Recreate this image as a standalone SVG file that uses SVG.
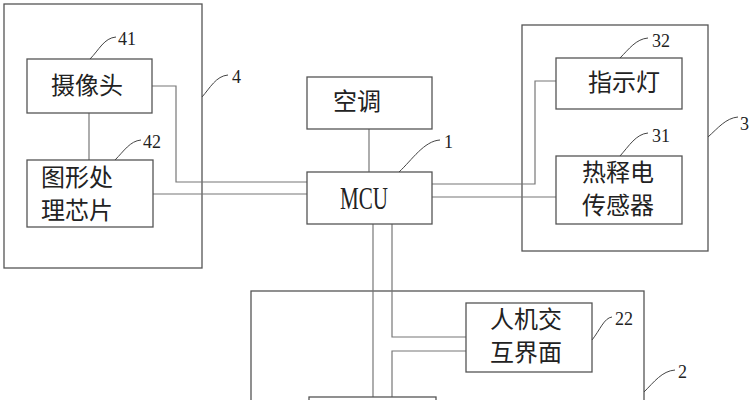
<svg xmlns="http://www.w3.org/2000/svg" width="756" height="400" viewBox="0 0 756 400">
<style>
.b{fill:#fff;stroke:#555;stroke-width:1.3}
.g{fill:none;stroke:#555;stroke-width:1.3}
.c{fill:none;stroke:#777;stroke-width:1.2}
.l{fill:none;stroke:#444;stroke-width:1}
.t{font-family:"Noto Sans CJK SC","Noto Sans",sans-serif;font-size:24px;fill:#222}
.n{font-family:"Liberation Serif",serif;font-size:18px;fill:#222}
</style>
<rect width="756" height="400" fill="#fff"/>
<g id="group4">
<rect class="g" x="4" y="4" width="198" height="264"/>
<path class="l" d="M202,97 C210,88 216,76 228,75"/>
<text class="n" x="232" y="83">4</text>
</g>
<g id="group3">
<rect class="g" x="522" y="25" width="186" height="226"/>
<path class="l" d="M708,137 C718,128 726,118 738,117"/>
<text class="n" x="740" y="130">3</text>
</g>
<g id="group2">
<rect class="g" x="251" y="291" width="393" height="130"/>
<path class="l" d="M644,392 C654,382 662,371 675,370"/>
<text class="n" x="678" y="378">2</text>
</g>
<g id="connectors">
<line class="c" x1="89" y1="113" x2="89" y2="160"/>
<polyline class="c" points="152,86 176,86 176,182 307,182"/>
<line class="c" x1="153" y1="194" x2="307" y2="194"/>
<line class="c" x1="369" y1="129" x2="369" y2="172"/>
<polyline class="c" points="432,184 535,184 535,81 556,81"/>
<line class="c" x1="432" y1="197" x2="556" y2="197"/>
<line class="c" x1="373" y1="224" x2="373" y2="397"/>
<polyline class="c" points="392,224 392,337 466,337"/>
<polyline class="c" points="466,351 392,351 392,397"/>
</g>
<g id="camera">
<rect class="b" x="27" y="59" width="125" height="54"/>
<text class="t" x="51" y="94">摄像头</text>
<path class="l" d="M90,59 C99,50 104,38 116,37"/>
<text class="n" x="118" y="45">41</text>
</g>
<g id="imgchip">
<rect class="b" x="27" y="160" width="126" height="67"/>
<text class="t" x="41" y="186">图形处</text>
<text class="t" x="41" y="219">理芯片</text>
<path class="l" d="M115,160 C124,151 130,141 141,140"/>
<text class="n" x="143" y="148">42</text>
</g>
<g id="aircon">
<rect class="b" x="307" y="77" width="125" height="52"/>
<text class="t" x="333" y="110">空调</text>
</g>
<g id="mcu">
<rect class="b" x="307" y="172" width="125" height="52"/>
<text x="340" y="209" font-family="Liberation Serif,serif" font-size="31" fill="#222" textLength="48" lengthAdjust="spacingAndGlyphs">MCU</text>
<path class="l" d="M399,172 C412,160 424,141 440,140"/>
<text class="n" x="444" y="148">1</text>
</g>
<g id="indicator">
<rect class="b" x="556" y="58" width="126" height="51"/>
<text class="t" x="588" y="91">指示灯</text>
<path class="l" d="M620,58 C629,49 636,39 648,38"/>
<text class="n" x="652" y="47">32</text>
</g>
<g id="sensor">
<rect class="b" x="556" y="156" width="126" height="68"/>
<text class="t" x="582" y="181">热释电</text>
<text class="t" x="582" y="214">传感器</text>
<path class="l" d="M620,156 C629,146 636,134 648,133"/>
<text class="n" x="652" y="142">31</text>
</g>
<g id="hmi">
<rect class="b" x="466" y="303" width="126" height="69"/>
<text class="t" x="490" y="328">人机交</text>
<text class="t" x="490" y="361">互界面</text>
<path class="l" d="M592,340 C600,330 604,318 612,317"/>
<text class="n" x="615" y="325">22</text>
</g>
<g id="bottombox">
<rect class="b" x="309" y="397" width="127" height="30"/>
</g>
</svg>
